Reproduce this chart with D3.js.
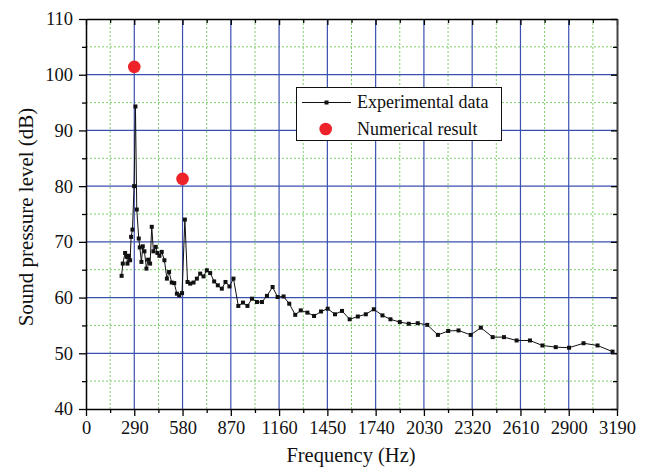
<!DOCTYPE html>
<html><head><meta charset="utf-8">
<script src="https://cdn.jsdelivr.net/npm/d3@7"></script>
<style>
body{margin:0;background:#fff}
svg{display:block}
</style>
</head><body><svg id="c" width="647" height="467"></svg>
<script>
// ---- data ----
const freqHz = [214,221,235,245,249,257,265,271,279,289,297,305,317,323,333,341,351,363,373,385,395,405,419,429,441,455,471,486,499,
  515,530,546,560,577,594,610,626,646,666,686,706,726,746,770,792,816,838,862,886,915,943,970,997,1027,1057,1087,1121,1151,1187,1221,1257,
  1290,1330,1370,1412,1452,1496,1538,1584,1633,1681,1729,1781,1829,1885,1939,1993,2050,2114,2176,2238,2311,2372,2443,2511,2587,2667,2742,2822,2902,2989,3073,3163];
const splDb = [63.9,66.1,68.0,67.3,66.1,67.5,66.7,70.9,72.2,80.0,94.3,75.8,70.6,69.0,66.4,69.2,68.3,65.2,66.8,66.1,72.7,68.3,69.1,68.0,67.5,68.2,66.7,63.4,64.6,
  62.7,62.6,60.7,60.4,60.8,74.0,62.8,62.5,62.7,63.4,64.3,63.8,64.9,64.4,62.9,62.2,61.6,62.8,62.0,63.4,58.5,59.1,58.5,59.8,59.2,59.2,60.3,61.9,60.1,60.2,58.9,56.9,
  57.7,57.3,56.7,57.5,58.0,57.0,57.6,56.1,56.6,57.0,57.9,56.8,56.1,55.6,55.3,55.4,55.1,53.3,54.0,54.1,53.3,54.6,52.9,52.9,52.3,52.3,51.4,51.1,51.0,51.8,51.4,50.3];
const numFreqHz = [290, 580];
const numDb = [101.4, 81.3];
const xTicks = [0,290,580,870,1160,1450,1740,2030,2320,2610,2900,3190];
const xMinor = [145,435,725,1015,1305,1595,1885,2175,2465,2755,3045];
const yTicks = [40,50,60,70,80,90,100,110];
const yMinor = [45,55,65,75,85,95,105];
const xTitle = "Frequency (Hz)";
const yTitle = "Sound pressure level (dB)";
const legendLabels = ["Experimental data","Numerical result"];

// ---- layout ----
const FONT = "'Liberation Serif','Times New Roman',Tinos,'DejaVu Serif',serif";
const L=86, R=617, T=19, B=409;
const svg = d3.select("#c");
const x = d3.scaleLinear().domain([0,3190]).range([L,R]);
const y = d3.scaleLinear().domain([40,110]).range([B,T]);

// grid
const g = svg.append("g");
g.selectAll(".gxm").data(xMinor).join("line")
  .attr("x1",d=>x(d)).attr("x2",d=>x(d)).attr("y1",T).attr("y2",B)
  .attr("stroke","#7ccf6a").attr("stroke-width",1).attr("stroke-dasharray","2,2");
g.selectAll(".gym").data(yMinor).join("line")
  .attr("y1",d=>y(d)).attr("y2",d=>y(d)).attr("x1",L).attr("x2",R)
  .attr("stroke","#7ccf6a").attr("stroke-width",1).attr("stroke-dasharray","2,2");
g.selectAll(".gx").data(xTicks.slice(1,-1)).join("line")
  .attr("x1",d=>x(d)).attr("x2",d=>x(d)).attr("y1",T).attr("y2",B)
  .attr("stroke","#3a50b0").attr("stroke-width",1.2);
g.selectAll(".gy").data(yTicks.slice(1,-1)).join("line")
  .attr("y1",d=>y(d)).attr("y2",d=>y(d)).attr("x1",L).attr("x2",R)
  .attr("stroke","#3a50b0").attr("stroke-width",1.2);

// axes
function style(sel){ sel.attr("font-family",null);
  sel.select(".domain").attr("stroke","#000").attr("stroke-width",1.5);
  sel.selectAll(".tick line").attr("stroke","#000").attr("stroke-width",1.3);
  sel.selectAll("text").style("font-family",FONT).style("font-size","18.5px").attr("fill","#111"); }
const ax = svg.append("g").attr("transform",`translate(0,${B})`)
  .call(d3.axisBottom(x).tickValues(xTicks).tickSize(7).tickSizeOuter(0).tickPadding(5).tickFormat(d3.format("d")));
style(ax);
const axm = svg.append("g").attr("transform",`translate(0,${B})`)
  .call(d3.axisBottom(x).tickValues(xMinor).tickSize(4).tickFormat(""));
style(axm); axm.select(".domain").remove();
const ay = svg.append("g").attr("transform",`translate(${L},0)`)
  .call(d3.axisLeft(y).tickValues(yTicks).tickSize(7).tickSizeOuter(0).tickPadding(6).tickFormat(d3.format("d")));
style(ay);
const aym = svg.append("g").attr("transform",`translate(${L},0)`)
  .call(d3.axisLeft(y).tickValues(yMinor).tickSize(4).tickFormat(""));
style(aym); aym.select(".domain").remove();
const at = svg.append("g").attr("transform",`translate(0,${T})`)
  .call(d3.axisTop(x).tickValues(xTicks).tickSize(-6).tickSizeOuter(0).tickFormat(""));
style(at);
const atm = svg.append("g").attr("transform",`translate(0,${T})`)
  .call(d3.axisTop(x).tickValues(xMinor).tickSize(-4).tickFormat(""));
style(atm); atm.select(".domain").remove();
const ar = svg.append("g").attr("transform",`translate(${R},0)`)
  .call(d3.axisRight(y).tickValues(yTicks).tickSize(-6).tickSizeOuter(0).tickFormat(""));
style(ar); ar.select(".domain").attr("stroke","#444").attr("stroke-width",2);
const arm = svg.append("g").attr("transform",`translate(${R},0)`)
  .call(d3.axisRight(y).tickValues(yMinor).tickSize(-4).tickFormat(""));
style(arm); arm.select(".domain").remove();

// titles
svg.append("text").attr("x",351).attr("y",462).attr("text-anchor","middle")
  .style("font-family",FONT).style("font-size","20.5px").attr("fill","#111").text(xTitle);
svg.append("text").attr("transform","translate(33,217) rotate(-90)").attr("text-anchor","middle")
  .style("font-family",FONT).style("font-size","21px").attr("fill","#111").text(yTitle);

// experimental series
const pts = freqHz.map((f,i)=>[f,splDb[i]]);
svg.append("path").datum(pts)
  .attr("d",d3.line().x(d=>x(d[0])).y(d=>y(d[1])))
  .attr("fill","none").attr("stroke","#111").attr("stroke-width",1);
svg.selectAll(".pt").data(pts).join("rect")
  .attr("x",d=>x(d[0])-2).attr("y",d=>y(d[1])-2).attr("width",4).attr("height",4).attr("fill","#111");

// numerical
svg.selectAll(".num").data(numFreqHz).join("circle")
  .attr("cx",d=>x(d)).attr("cy",(d,i)=>y(numDb[i])).attr("r",6.3).attr("fill","#ee2229");

// legend
const lg = svg.append("g");
lg.append("rect").attr("x",296.5).attr("y",87.5).attr("width",205).attr("height",53)
  .attr("fill","#fff").attr("stroke","#111").attr("stroke-width",1);
lg.append("line").attr("x1",302).attr("x2",351).attr("y1",102.5).attr("y2",102.5).attr("stroke","#111");
lg.append("rect").attr("x",324.5).attr("y",100.5).attr("width",4).attr("height",4).attr("fill","#111");
lg.append("circle").attr("cx",325.7).attr("cy",129).attr("r",6.3).attr("fill","#ee2229");
lg.append("text").attr("x",357).attr("y",108).style("font-family",FONT).style("font-size","18px").attr("fill","#111").text(legendLabels[0]);
lg.append("text").attr("x",357).attr("y",135).style("font-family",FONT).style("font-size","18px").attr("fill","#111").text(legendLabels[1]);
</script>
</body></html>
